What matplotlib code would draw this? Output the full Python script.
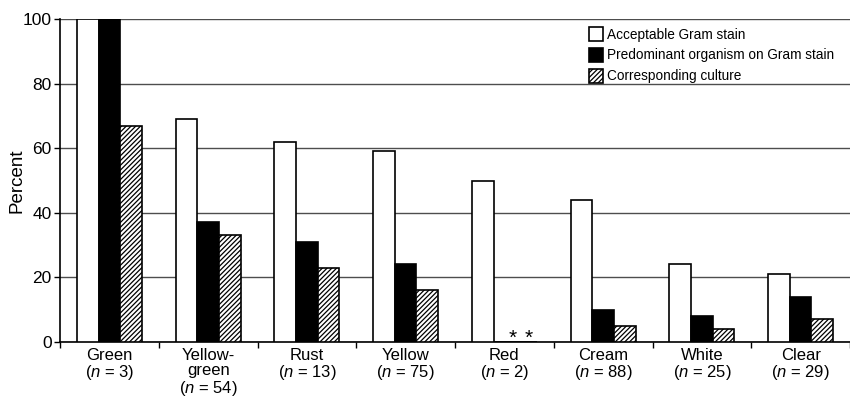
import matplotlib
matplotlib.use('Agg')
import matplotlib.pyplot as plt
import numpy as np

plt.rcParams['font.family'] = ['Liberation Sans', 'DejaVu Sans']
plt.rcParams['mathtext.fontset'] = 'custom'
plt.rcParams['mathtext.it'] = 'Liberation Sans:italic'
plt.rcParams['mathtext.rm'] = 'Liberation Sans'
plt.rcParams['hatch.linewidth'] = 0.9

# Data
colours = ['Green', 'Yellow-\ngreen', 'Rust', 'Yellow', 'Red', 'Cream', 'White', 'Clear']
n_values = [3, 54, 13, 75, 2, 88, 25, 29]
acceptable = [100, 69, 62, 59, 50, 44, 24, 21]
predominant = [100, 37, 31, 24, 0, 10, 8, 14]
culture = [67, 33, 23, 16, 0, 5, 4, 7]
missing = ['Red']  # marked with asterisks

fig = plt.figure(figsize=(8.5, 4), dpi=100)
ax = fig.add_axes([0.0706, 0.145, 0.9294, 0.8075])

x = np.arange(len(colours))
w = 0.22
ax.bar(x - w, acceptable, w, color='white', edgecolor='black', linewidth=1.2,
       label='Acceptable Gram stain', zorder=3)
ax.bar(x, predominant, w, color='black', edgecolor='black', linewidth=1.2,
       label='Predominant organism on Gram stain', zorder=3)
ax.bar(x + w, culture, w, color='white', edgecolor='black', linewidth=1.2,
       hatch='///////', label='Corresponding culture', zorder=3)

# asterisks for the red group
for name in missing:
    i = colours.index(name)
    for off in (0.08, 0.25):
        ax.text(i + off, 1.0, '*', ha='center', va='center', fontsize=15)

ax.set_xlim(-0.5, len(colours) - 0.5)
ax.set_ylim(0, 100)
ax.set_yticks([0, 20, 40, 60, 80, 100])
ax.yaxis.grid(True, color='#4d4d4d', linewidth=1.0, zorder=0)
ax.set_axisbelow(True)

labels = []
for c, n in zip(colours, n_values):
    labels.append(c + '\n($\\mathit{n}$ = %d)' % n)
ax.set_xticks(x)
ax.set_xticklabels(labels, fontsize=12, linespacing=1.05)
ax.tick_params(axis='x', which='major', length=0, pad=4)
ax.set_xticks(np.arange(len(colours) + 1) - 0.5, minor=True)
ax.tick_params(axis='x', which='minor', length=4, width=1)
ax.tick_params(axis='y', labelsize=12.5, length=4, width=1, pad=2)

ax.set_ylabel('Percent', fontsize=13.5)
ax.yaxis.set_label_coords(-0.044, 0.5)

ax.spines['top'].set_visible(False)
ax.spines['right'].set_visible(False)
ax.spines['left'].set_linewidth(1.2)
ax.spines['bottom'].set_linewidth(1.2)

ax.legend(loc='upper right', bbox_to_anchor=(0.99, 1.0), frameon=False,
          fontsize=9.8, handlelength=1.0, handleheight=1.2, handletextpad=0.3,
          labelspacing=0.45, borderaxespad=0.2)

plt.savefig('out.png', dpi=100)
